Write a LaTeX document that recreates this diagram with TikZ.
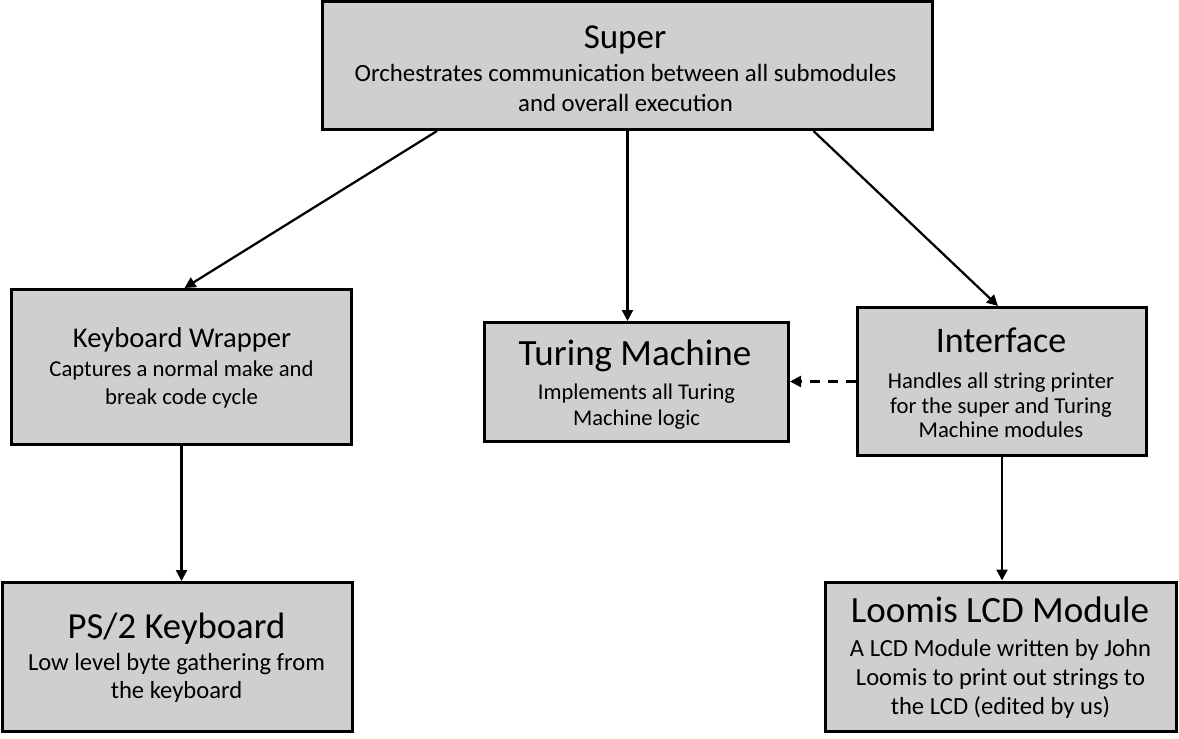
\documentclass[tikz,border=0pt]{standalone}
\usepackage{fontspec}
\setmainfont{Carlito}
\usetikzlibrary{arrows.meta}
\definecolor{boxgray}{RGB}{208,206,206}
\begin{document}
\begin{tikzpicture}[x=1pt,y=-1pt,
  box/.style={draw=black, line width=3pt, fill=boxgray, inner sep=0pt, rectangle},
  ttl/.style={anchor=base, inner sep=0pt, text=black},
  sub/.style={anchor=base, inner sep=0pt, align=center, text=black},
  arr/.style={line width=2.25pt, -{Triangle[length=11pt,width=11pt]}},
  darr/.style={arr, dash pattern=on 10pt off 8pt}]
\useasboundingbox (0,0) rectangle (1179,739);
% boxes
\node[box, minimum width=610pt, minimum height=128pt] (super) at (627.5,65.5) {};
\node[box, minimum width=340pt, minimum height=155pt] (kw) at (181.5,367) {};
\node[box, minimum width=304pt, minimum height=119pt] (tm) at (636.5,382) {};
\node[box, minimum width=289pt, minimum height=148pt] (iface) at (1002,381.5) {};
\node[box, minimum width=350pt, minimum height=149pt] (ps2) at (177.5,657) {};
\node[box, minimum width=351pt, minimum height=149pt] (lcd) at (1001,656.5) {};
% texts (subtitle nodes anchored at the baseline of their last line)
\node[ttl, font=\fontsize{35}{42}\selectfont] (superT) at (625,48) {Super};
\node[sub, font=\fontsize{24.8}{30}\selectfont] (superS) at (625.5,111) {Orchestrates communication between all submodules\\and overall execution};
\node[ttl, font=\fontsize{28.6}{34}\selectfont] (kwT) at (182,347.7) {Keyboard Wrapper};
\node[sub, font=\fontsize{22.7}{27.5}\selectfont] (kwS) at (181.5,404.2) {Captures a normal make and\\break code cycle};
\node[ttl, font=\fontsize{37}{44}\selectfont] (tmT) at (635,365.7) {Turing Machine};
\node[sub, font=\fontsize{22.5}{26}\selectfont] (tmS) at (636.5,425) {Implements all Turing\\Machine logic};
\node[ttl, font=\fontsize{36}{43}\selectfont] (ifT) at (1001,352) {Interface};
\node[sub, font=\fontsize{22.7}{24.5}\selectfont] (ifS) at (1001,437.5) {Handles all string printer\\for the super and Turing\\Machine modules};
\node[ttl, font=\fontsize{36.7}{44}\selectfont] (ps2T) at (176.5,638) {PS/2 Keyboard};
\node[sub, font=\fontsize{24.6}{28}\selectfont] (ps2S) at (176.5,698) {Low level byte gathering from\\the keyboard};
\node[ttl, font=\fontsize{37}{44}\selectfont] (lcdT) at (1000,622.7) {Loomis LCD Module};
\node[sub, font=\fontsize{24.6}{28.7}\selectfont] (lcdS) at (1000.5,714.1) {A LCD Module written by John\\Loomis to print out strings to\\the LCD (edited by us)};
% connectors
\draw[arr] ([xshift=116pt]super.south west) -- ([xshift=174.5pt]kw.north west);
\draw[arr] (super.south) -- (super.south |- tm.north);
\draw[arr] ([xshift=492.5pt]super.south west) -- ([xshift=-4pt]iface.north);
\draw[arr] (kw.south) -- (kw.south |- ps2.north);
\draw[arr] (iface.south) -- (iface.south |- lcd.north);
\draw[darr] (iface.west) -- (iface.west -| tm.east);
\end{tikzpicture}
\end{document}
